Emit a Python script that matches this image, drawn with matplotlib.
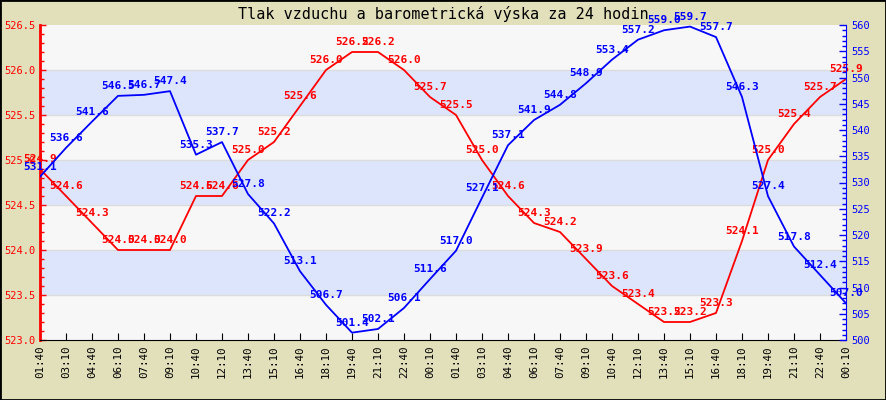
import matplotlib.pyplot as plt
from matplotlib.patches import Rectangle
from matplotlib.ticker import MultipleLocator

times = ["01:40", "03:10", "04:40", "06:10", "07:40", "09:10", "10:40", "12:10",
         "13:40", "15:10", "16:40", "18:10", "19:40", "21:10", "22:40", "00:10",
         "01:40", "03:10", "04:40", "06:10", "07:40", "09:10", "10:40", "12:10",
         "13:40", "15:10", "16:40", "18:10", "19:40", "21:10", "22:40", "00:10"]

pressure = [524.9, 524.6, 524.3, 524.0, 524.0, 524.0, 524.6, 524.6,
            525.0, 525.2, 525.6, 526.0, 526.2, 526.2, 526.0, 525.7,
            525.5, 525.0, 524.6, 524.3, 524.2, 523.9, 523.6, 523.4,
            523.2, 523.2, 523.3, 524.1, 525.0, 525.4, 525.7, 525.9]

height = [531.1, 536.6, 541.6, 546.5, 546.7, 547.4, 535.3, 537.7,
          527.8, 522.2, 513.1, 506.7, 501.4, 502.1, 506.1, 511.6,
          517.0, 527.1, 537.1, 541.9, 544.8, 548.9, 553.4, 557.2,
          559.0, 559.7, 557.7, 546.3, 527.4, 517.8, 512.4, 507.0]

bg = '#e2dfbb'
mono = 'DejaVu Sans Mono'
x = list(range(len(times)))

fig = plt.figure(figsize=(8.86, 4.0), dpi=100, facecolor=bg)
ax = fig.add_axes([40 / 886, 60 / 400, 806 / 886, 315 / 400])
ax.set_facecolor('#f7f7f7')

# alternating bands
lo, hi = 523.0, 526.5
for i in range(7):
    y0 = lo + i * 0.5
    if i % 2 == 1:
        ax.axhspan(y0, y0 + 0.5, color='#dde5fd', zorder=0, lw=0)
    if i > 0:
        ax.axhline(y0, color='#dcdcdc', lw=1, zorder=0.5)

ax.plot(x, pressure, color='red', lw=1.3, zorder=3)
for xi, v in zip(x, pressure):
    ax.annotate(f"{v:.1f}", (xi, v), xytext=(0, 5), textcoords='offset pixels',
                ha='center', va='bottom', color='red', fontsize=8,
                fontweight='bold', family=mono, zorder=5)

ax.set_xlim(0, len(times) - 1)
ax.set_ylim(lo, hi)
ax.set_xticks(x)
ax.set_xticklabels(times, rotation=90, family=mono, fontsize=7.8)
ax.yaxis.set_major_locator(MultipleLocator(0.5))
ax.yaxis.set_minor_locator(MultipleLocator(0.1))
ax.set_yticklabels([f"{v:.1f}" for v in ax.get_yticks()])
ax.tick_params(axis='y', which='both', direction='in', colors='red',
               labelsize=7.5, length=4, width=1)
ax.tick_params(axis='y', which='minor', length=3)
ax.tick_params(axis='x', direction='in', length=5, pad=4)
for lab in ax.get_yticklabels():
    lab.set_family(mono)

ax.spines['left'].set_color('red')
ax.spines['left'].set_linewidth(2)
ax.spines['top'].set_visible(False)
ax.spines['right'].set_visible(False)
ax.spines['bottom'].set_color('black')

ax2 = ax.twinx()
ax2.plot(x, height, color='blue', lw=1.3, zorder=3)
for xi, v in zip(x, height):
    ax2.annotate(f"{v:.1f}", (xi, v), xytext=(0, 5), textcoords='offset pixels',
                 ha='center', va='bottom', color='blue', fontsize=8,
                 fontweight='bold', family=mono, zorder=5)
ax2.set_ylim(500, 560)
ax2.yaxis.set_major_locator(MultipleLocator(5))
ax2.yaxis.set_minor_locator(MultipleLocator(1))
ax2.tick_params(axis='y', which='both', direction='in', colors='blue',
                labelsize=7.5, length=5, width=1)
ax2.tick_params(axis='y', which='minor', length=3)
for lab in ax2.get_yticklabels():
    lab.set_family(mono)
ax2.spines['right'].set_color('blue')
ax2.spines['left'].set_visible(False)
ax2.spines['top'].set_visible(False)
ax2.spines['bottom'].set_visible(False)

fig.text(0.5, 1 - 13.5 / 400, "Tlak vzduchu a barometrická výska za 24 hodin",
         ha='center', va='center', family=mono, fontsize=10.9)
fig.patches.append(Rectangle((0, 0), 1, 1, transform=fig.transFigure,
                             fill=False, edgecolor='black', lw=2))

fig.savefig("out.png", dpi=100, facecolor=bg)
